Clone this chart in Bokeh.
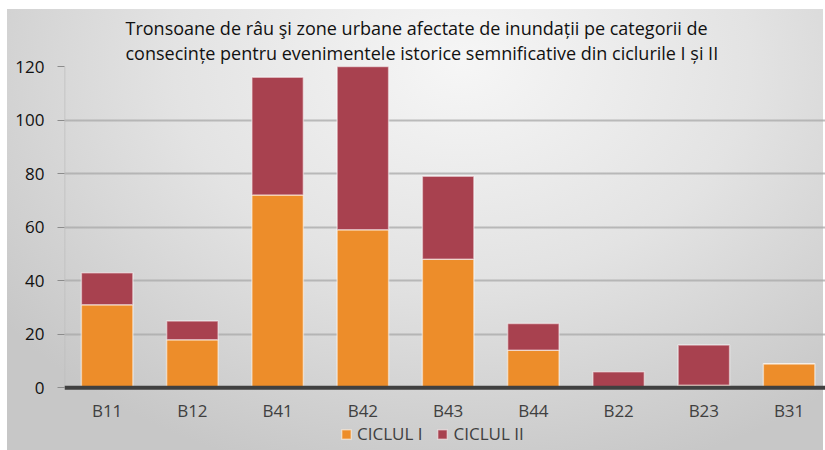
from bokeh.plotting import figure
from bokeh.models import (Range1d, FixedTicker, Legend, LegendItem, Title, ColumnDataSource, Span)
from bokeh.core.properties import value
from bokeh.embed import file_html
from bokeh.resources import INLINE

categories = ["B11", "B12", "B41", "B42", "B43", "B44", "B22", "B23", "B31"]
ciclul_1 = [31, 18, 72, 59, 48, 14, 0, 1, 9]
ciclul_2 = [12, 7, 44, 66, 31, 10, 6, 15, 0]
y_ticks = [0, 20, 40, 60, 80, 100, 120]

FONT = "Open Sans"
ORANGE = "#ed8d2a"
RED = "#a8414f"

xs = [i + 0.5 for i in range(len(categories))]
src = ColumnDataSource(dict(x=xs, c1=ciclul_1, c2=ciclul_2, cat=categories,
                            ylab=[-8.5] * len(categories)))

p = figure(width=825, height=450, output_backend="svg", toolbar_location=None,
           x_range=Range1d(0, 8.927), y_range=Range1d(-23.4, 120),
           min_border_left=64, min_border_right=0, min_border_top=66, min_border_bottom=0)
p.styles = {"background":
            "linear-gradient(#ffffff,#ffffff) left top / 7px 100% no-repeat, "
            "linear-gradient(#ffffff,#ffffff) left top / 100% 9px no-repeat, "
            "linear-gradient(#ffffff,#ffffff) right top / 2px 100% no-repeat, "
            "radial-gradient(ellipse 70% 95% at 56% 14%, #f6f6f6 0%, #e3e3e3 50%, #c7c7c7 100%)"}
p.border_fill_alpha = 0
p.background_fill_alpha = 0
p.outline_line_color = None

title = Title(text="Tronsoane de râu şi zone urbane afectate de inundații pe categorii de\nconsecințe pentru evenimentele istorice semnificative din ciclurile I și II",
              align="left", offset=61, text_font=FONT, text_font_size="18px", text_font_style="normal",
              text_color="#111111", text_line_height=1.05, standoff=3)
p.add_layout(title, "above")

r = p.vbar_stack(["c1", "c2"], x="x", width=0.604, source=src, color=[ORANGE, RED],
                 line_color="white", line_alpha=0.5, line_width=1.5)

# x axis drawn inside the frame: thick baseline + category labels
p.xaxis.visible = False
p.add_layout(Span(location=0, dimension="width", line_color="#404040", line_width=4))
p.text(x="x", y="ylab", text="cat", source=src, text_align="center", text_baseline="middle",
       text_font=value(FONT), text_font_size="17px", text_color="#404040")

# faint y axis line from 0 to 120
p.segment(x0=[0], y0=[y_ticks[0]], x1=[0], y1=[y_ticks[-1]], line_color="#bdbdbd", line_width=1.5)

p.yaxis.ticker = FixedTicker(ticks=y_ticks)
p.yaxis.axis_line_color = None
p.yaxis.major_tick_line_color = "#8c8c8c"
p.yaxis.major_tick_in = 0
p.yaxis.major_tick_out = 7
p.yaxis.minor_tick_line_color = None
p.yaxis.major_label_text_font = FONT
p.yaxis.major_label_text_font_size = "17px"
p.yaxis.major_label_text_color = "#111111"
p.yaxis.major_label_standoff = 13

p.xgrid.grid_line_color = None
p.ygrid.ticker = FixedTicker(ticks=y_ticks)
p.ygrid.grid_line_color = "#a8a8a8"
p.ygrid.grid_line_width = 2
p.ygrid.grid_line_alpha = 0.75

legend = Legend(items=[LegendItem(label="CICLUL I", renderers=[r[0]]),
                       LegendItem(label="CICLUL II", renderers=[r[1]])],
                orientation="horizontal", location=(276, 5),
                label_text_font=FONT, label_text_font_size="17px", label_text_color="#404040",
                glyph_width=12, glyph_height=12, spacing=14, label_standoff=5,
                padding=0, margin=0, background_fill_alpha=0, border_line_color=None)
p.add_layout(legend, "center")

open("out.html", "w").write(file_html(p, INLINE))
